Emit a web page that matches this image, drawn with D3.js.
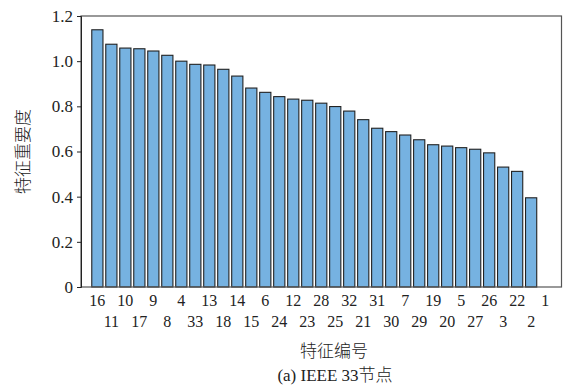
<!DOCTYPE html>
<html>
  <head>
    <meta charset="utf-8">
    <style type="text/css">
      body { margin:0; background:#fff; }
      text { font-family:"Liberation Serif","Times New Roman","Noto Sans CJK SC",serif; fill:#222; }
      .cjk { font-family:"Liberation Serif","Noto Sans CJK SC",serif; font-weight:300; }
    </style>
  </head>
  <body>
    <div id="canvas"></div>
    <script src="https://cdn.jsdelivr.net/npm/d3@7"></script>
    <script type="text/javascript">

    // feature ids, in the order of the bars
    var features = ["16","11","10","17","9","8","4","33","13","18","14","15","6","24","12","23",
                    "28","25","32","21","31","30","7","29","19","20","5","27","26","3","22","2","1"];
    // importance of each feature
    var importance = [1.139,1.075,1.058,1.055,1.045,1.026,1.0,0.986,0.983,0.964,0.934,0.881,0.862,0.843,0.832,0.827,
                      0.814,0.799,0.779,0.741,0.703,0.688,0.673,0.652,0.630,0.624,0.617,0.610,0.594,0.531,0.512,0.395,0];
    var yTicks = [0, 0.2, 0.4, 0.6, 0.8, 1.0, 1.2];
    var yTickLabels = ["0","0.2","0.4","0.6","0.8","1.0","1.2"];

    (function () {
      var width = 563, height = 392;
      var plotLeft = 81, plotRight = 561.5, plotTop = 16, plotBottom = 287;

      var svg = d3.select('#canvas').append('svg')
                 .attr('width', width)
                 .attr('height', height);

      var x = d3.scaleBand()
                .domain(features)
                .range([plotLeft, plotRight])
                .paddingInner(0.2)
                .paddingOuter(0.77);

      var y = d3.scaleLinear()
                .domain([0, 1.2])
                .range([plotBottom, plotTop]);

      var data = features.map(function (f, i) { return {id: f, v: importance[i]}; });

      // bars
      svg.selectAll('rect.bar')
         .data(data.filter(function (d) { return d.v > 0; }))
       .enter().append('rect')
         .attr('class', 'bar')
         .attr('x', function (d) { return x(d.id); })
         .attr('y', function (d) { return y(d.v); })
         .attr('width', x.bandwidth())
         .attr('height', function (d) { return y(0) - y(d.v); })
         .style('fill', '#76b2e1')
         .style('stroke', '#222')
         .style('stroke-width', 1.1);

      // frame
      svg.append('rect')
         .attr('x', plotLeft).attr('y', plotTop)
         .attr('width', plotRight - plotLeft).attr('height', plotBottom - plotTop)
         .style('fill', 'none')
         .style('stroke', '#555')
         .style('stroke-width', 1.2);

      // y axis
      var yAxis = d3.axisLeft(y)
                    .tickValues(yTicks)
                    .tickFormat(function (d, i) { return yTickLabels[i]; })
                    .tickSize(4)
                    .tickPadding(4);
      var gy = svg.append('g')
                  .attr('transform', 'translate(' + plotLeft + ',0)')
                  .call(yAxis);
      gy.select('.domain').attr('stroke', '#222');
      gy.selectAll('.tick line').attr('stroke', '#222');
      gy.selectAll('.tick text')
        .style('font-size', '17px')
        .attr('fill', '#222');

      // x labels, alternating rows
      var xAxis = d3.axisBottom(x).tickSize(0).tickPadding(0);
      var gx = svg.append('g')
                  .attr('transform', 'translate(0,' + plotBottom + ')')
                  .call(xAxis);
      gx.select('.domain').remove();
      gx.selectAll('.tick text')
        .attr('y', function (d, i) { return i % 2 === 0 ? 8 : 29; })
        .attr('dy', '0.71em')
        .style('font-size', '16px')
        .attr('fill', '#222');

      // titles
      svg.append('text')
         .attr('class', 'cjk')
         .attr('transform', 'translate(23,151.5) rotate(-90)')
         .attr('text-anchor', 'middle')
         .attr('dy', '0.35em')
         .style('font-size', '17px')
         .text('特征重要度');

      svg.append('text')
         .attr('class', 'cjk')
         .attr('x', 334).attr('y', 351)
         .attr('text-anchor', 'middle')
         .attr('dy', '0.35em')
         .style('font-size', '17px')
         .text('特征编号');

      svg.append('text')
         .attr('class', 'cjk')
         .attr('x', 335).attr('y', 375)
         .attr('text-anchor', 'middle')
         .attr('dy', '0.35em')
         .style('font-size', '17px')
         .text('(a) IEEE 33节点');
    })();
    </script>
  </body>
</html>
